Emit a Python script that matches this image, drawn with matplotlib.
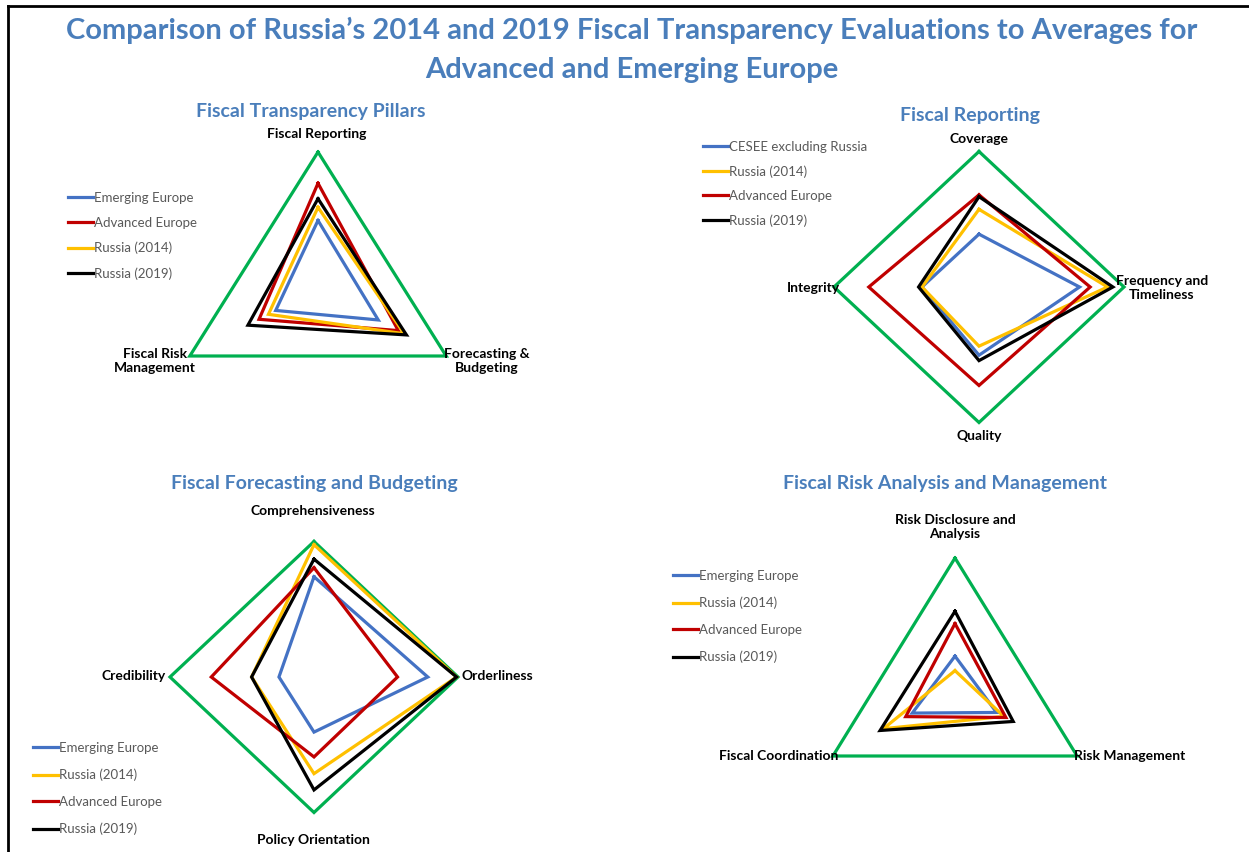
import matplotlib
matplotlib.use("Agg")
import matplotlib.pyplot as plt
import numpy as np
from matplotlib.lines import Line2D

plt.rcParams['font.family'] = ['Lato', 'DejaVu Sans']

W, H = 1249, 852

# ---- data (scores, 0-3 scale; green = maximum) ----
names = ["Emerging Europe", "Advanced Europe", "Russia (2014)", "Russia (2019)"]

pillars = ["Fiscal Reporting", "Forecasting &\nBudgeting", "Fiscal Risk\nManagement"]
ee_p = [1.49, 1.41, 0.99]
ae_p = [2.31, 1.88, 1.38]
r14_p = [1.78, 2.02, 1.16]
r19_p = [1.97, 2.07, 1.64]

reporting = ["Coverage", "Frequency and\nTimeliness", "Quality", "Integrity"]
cesee_r = [1.17, 2.08, 1.51, 1.18]
r14_r = [1.72, 2.66, 1.31, 1.18]
ae_r = [2.04, 2.30, 2.18, 2.28]
r19_r = [2.00, 2.77, 1.63, 1.25]

budgeting = ["Comprehensiveness", "Orderliness", "Policy Orientation", "Credibility"]
ee_b = [2.22, 2.37, 1.22, 0.73]
r14_b = [2.93, 2.97, 2.14, 1.30]
ae_b = [2.42, 1.74, 1.77, 2.14]
r19_b = [2.61, 2.97, 2.50, 1.30]

risks = ["Risk Disclosure and\nAnalysis", "Risk Management", "Fiscal Coordination"]
ee_k = [0.77, 1.02, 1.05]
r14_k = [0.44, 1.20, 1.76]
ae_k = [1.51, 1.25, 1.21]
r19_k = [1.79, 1.43, 1.84]

max_score = 3.0

BLUE = '#4472C4'
YELLOW = '#FFC000'
RED = '#C00000'
BLACK = '#000000'
GREEN = '#00B050'
TITLE = '#4A7EBB'
GREY = '#595959'


def fx(x):
    return x / W


def fy(y):
    return 1 - y / H


def radar(cx, cy, rh, rv):
    # elliptical polar axes centred on pixel (cx, cy)
    ax = fig.add_axes([(cx - rh) / W, (H - cy - rv) / H, 2 * rh / W, 2 * rv / H],
                      projection='polar')
    ax.set_theta_zero_location('N')
    ax.set_theta_direction(-1)
    ax.set_aspect('auto')
    ax.set_ylim(0, max_score)
    ax.set_xticks([])
    ax.set_yticks([])
    ax.grid(False)
    ax.spines['polar'].set_visible(False)
    ax.patch.set_alpha(0)
    return ax


def draw(ax, vals, color, label=None, z=2):
    n = len(vals)
    th = np.linspace(0, 2 * np.pi, n, endpoint=False)
    th = np.append(th, th[0])
    v = np.append(vals, vals[0])
    ln, = ax.plot(th, v, color=color, lw=2.3, label=label, zorder=z,
                  solid_joinstyle='miter', clip_on=False)
    return ln


def legend(ax, handles, x, y, spacing):
    ax.legend(handles=handles, loc='upper left', bbox_to_anchor=(fx(x), fy(y)),
              bbox_transform=fig.transFigure, frameon=False, fontsize=9.5,
              labelcolor=GREY, handlelength=1.9, handletextpad=0.1,
              borderpad=0, labelspacing=spacing, borderaxespad=0)


fig = plt.figure(figsize=(W / 100, H / 100), dpi=100)

# border
fig.add_artist(Line2D([fx(8), 1], [fy(6), fy(6)], color='black', lw=2))
fig.add_artist(Line2D([fx(8), fx(8)], [fy(6), 0], color='black', lw=2))

fig.text(fx(632), fy(30), "Comparison of Russia\u2019s 2014 and 2019 Fiscal Transparency Evaluations to Averages for",
         ha='center', va='center', fontsize=21, fontweight='bold', color=TITLE)
fig.text(fx(632), fy(70), "Advanced and Emerging Europe",
         ha='center', va='center', fontsize=21, fontweight='bold', color=TITLE)

lab = dict(fontsize=10, fontweight='bold', color='black', linespacing=1.25)
sub = dict(fontsize=14, fontweight='bold', color=TITLE, ha='center', va='center')

# ---- chart 1: pillars ----
ax1 = radar(318, 288, 148, 136)
draw(ax1, [max_score] * 3, GREEN, z=1)
h = [draw(ax1, ee_p, BLUE, names[0]), draw(ax1, ae_p, RED, names[1]),
     draw(ax1, r14_p, YELLOW, names[2]), draw(ax1, r19_p, BLACK, names[3])]
legend(ax1, h, 68, 192, 0.98)
fig.text(fx(311), fy(111), "Fiscal Transparency Pillars", **sub)
fig.text(fx(317), fy(134), pillars[0], ha='center', va='center', **lab)
fig.text(fx(487), fy(361), pillars[1], ha='center', va='center', **lab)
fig.text(fx(155), fy(361), pillars[2], ha='center', va='center', **lab)

# ---- chart 2: fiscal reporting ----
ax2 = radar(979, 287, 145, 135.5)
draw(ax2, [max_score] * 4, GREEN, z=1)
h = [draw(ax2, cesee_r, BLUE, "CESEE excluding Russia"), draw(ax2, r14_r, YELLOW, names[2]),
     draw(ax2, ae_r, RED, names[1]), draw(ax2, r19_r, BLACK, names[3])]
legend(ax2, h, 703, 141, 0.92)
fig.text(fx(970), fy(115), "Fiscal Reporting", **sub)
fig.text(fx(979), fy(139), reporting[0], ha='center', va='center', **lab)
fig.text(fx(1162), fy(288), reporting[1], ha='center', va='center', **lab)
fig.text(fx(979), fy(436), reporting[2], ha='center', va='center', **lab)
fig.text(fx(840), fy(288), reporting[3], ha='right', va='center', **lab)

# ---- chart 3: forecasting and budgeting ----
ax3 = radar(314, 677, 144, 135.5)
draw(ax3, [max_score] * 4, GREEN, z=1)
h = [draw(ax3, ee_b, BLUE, names[0]), draw(ax3, r14_b, YELLOW, names[2]),
     draw(ax3, ae_b, RED, names[1]), draw(ax3, r19_b, BLACK, names[3])]
legend(ax3, h, 33, 742, 1.12)
fig.text(fx(314), fy(483), "Fiscal Forecasting and Budgeting", **sub)
fig.text(fx(313), fy(511), budgeting[0], ha='center', va='center', **lab)
fig.text(fx(462), fy(676), budgeting[1], ha='left', va='center', **lab)
fig.text(fx(313), fy(840), budgeting[2], ha='center', va='center', **lab)
fig.text(fx(166), fy(676), budgeting[3], ha='right', va='center', **lab)

# ---- chart 4: fiscal risks ----
ax4 = radar(955, 690, 141, 132)
draw(ax4, [max_score] * 3, GREEN, z=1)
h = [draw(ax4, ee_k, BLUE, names[0]), draw(ax4, r14_k, YELLOW, names[2]),
     draw(ax4, ae_k, RED, names[1]), draw(ax4, r19_k, BLACK, names[3])]
legend(ax4, h, 673, 570, 1.12)
fig.text(fx(945), fy(483), "Fiscal Risk Analysis and Management", **sub)
fig.text(fx(955), fy(527), risks[0], ha='center', va='center', **lab)
fig.text(fx(1074), fy(756), risks[1], ha='left', va='center', **lab)
fig.text(fx(838), fy(756), risks[2], ha='right', va='center', **lab)

fig.savefig("out.png", dpi=100)
